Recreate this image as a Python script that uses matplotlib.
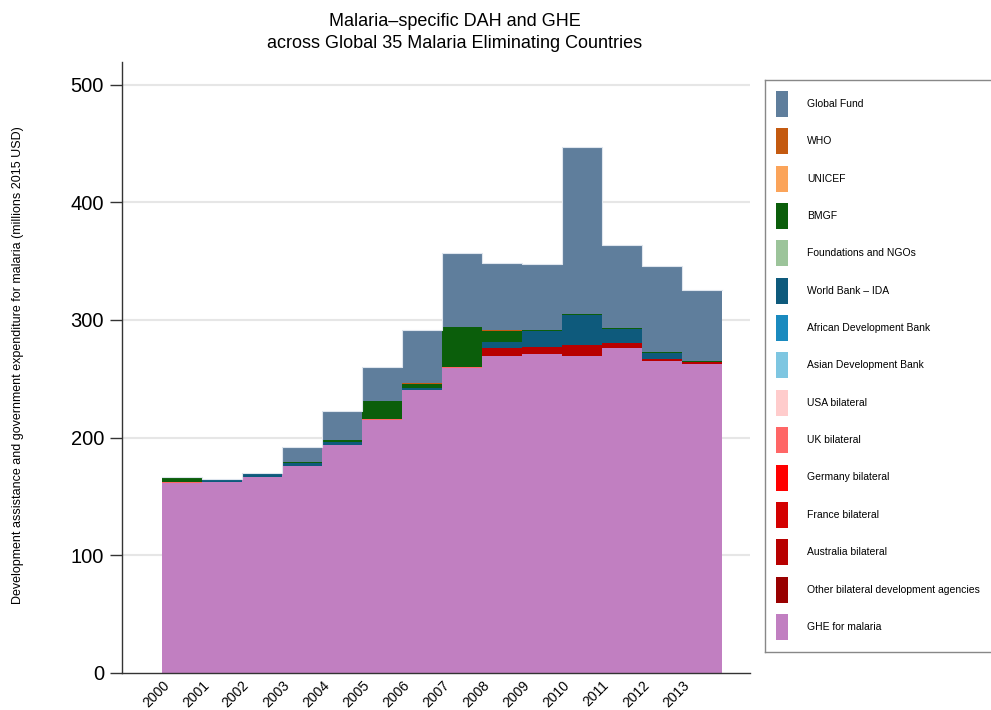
import matplotlib
matplotlib.use("Agg")
import matplotlib.pyplot as plt
from matplotlib.patches import Rectangle
import numpy as np

plt.rcParams['font.family'] = ['Liberation Sans', 'DejaVu Sans']

years = list(range(2000, 2014))

# Funding sources, bottom of the stack first (millions 2015 USD)
ghe        = [161.5, 162.0, 166.7, 176.0, 193.5, 215.0, 240.4, 259.4, 269.5, 271.0, 269.3, 276.4, 265.4, 262.5]
other_bil  = [0.0, 0.0, 0.0, 0.0, 0.0, 0.0, 0.0, 0.0, 0.0, 0.0, 0.0, 0.0, 0.0, 0.0]
australia  = [0.0, 0.0, 0.0, 0.0, 0.0, 0.0, 0.0, 0.0, 6.8, 6.3, 9.6, 3.7, 1.7, 1.5]
france     = [0.0, 0.0, 0.0, 0.0, 0.0, 0.0, 0.0, 0.0, 0.0, 0.0, 0.0, 0.0, 0.0, 0.0]
germany    = [0.0, 0.0, 0.0, 0.0, 0.0, 0.0, 0.0, 0.0, 0.0, 0.0, 0.0, 0.0, 0.0, 0.0]
uk         = [0.5, 0.3, 0.0, 0.0, 0.0, 0.5, 0.0, 0.8, 0.0, 0.0, 0.0, 0.0, 0.0, 0.0]
usa        = [0.0, 0.0, 0.0, 0.0, 0.0, 0.0, 0.0, 0.0, 0.0, 0.0, 0.0, 0.0, 0.0, 0.0]
asdb       = [0.0, 0.0, 0.0, 0.0, 0.0, 0.0, 0.0, 0.0, 0.0, 0.0, 0.0, 0.0, 0.0, 0.0]
afdb       = [0.0, 0.0, 0.0, 0.0, 0.0, 0.0, 0.0, 0.0, 0.0, 0.0, 0.0, 0.0, 0.0, 0.0]
wb_ida     = [0.0, 1.8, 2.0, 2.6, 2.6, 0.0, 2.0, 0.0, 4.8, 13.6, 25.3, 12.0, 4.8, 0.0]
foundations= [0.0, 0.0, 0.0, 0.0, 0.0, 0.0, 0.0, 0.0, 0.0, 0.0, 0.0, 0.0, 0.0, 0.0]
bmgf       = [4.8, 0.0, 0.8, 0.5, 2.0, 15.9, 3.0, 33.5, 9.8, 0.6, 0.6, 0.8, 0.8, 1.4]
unicef     = [0.0, 0.0, 0.0, 0.0, 0.0, 0.0, 0.0, 0.0, 0.0, 0.0, 0.0, 0.0, 0.0, 0.0]
who        = [0.0, 0.0, 0.0, 0.0, 0.0, 0.0, 0.7, 0.0, 0.5, 0.0, 0.0, 0.0, 0.0, 0.0]
global_fund= [0.0, 0.7, 0.0, 12.9, 24.2, 28.3, 45.7, 63.5, 57.2, 56.0, 142.4, 70.5, 73.4, 60.0]

series = [
    ("GHE for malaria", ghe, "#c17fc1"),
    ("Other bilateral development agencies", other_bil, "#990000"),
    ("Australia bilateral", australia, "#b80000"),
    ("France bilateral", france, "#d40000"),
    ("Germany bilateral", germany, "#ff0000"),
    ("UK bilateral", uk, "#ff6666"),
    ("USA bilateral", usa, "#ffcccc"),
    ("Asian Development Bank", asdb, "#7ec6e1"),
    ("African Development Bank", afdb, "#1a8abf"),
    ("World Bank \u2013 IDA", wb_ida, "#0e5a7c"),
    ("Foundations and NGOs", foundations, "#9cc49a"),
    ("BMGF", bmgf, "#0b5e0b"),
    ("UNICEF", unicef, "#fba45a"),
    ("WHO", who, "#c45a10"),
    ("Global Fund", global_fund, "#5f7e9c"),
]

W, H = 991, 710
fig = plt.figure(figsize=(W / 100, H / 100), dpi=100)

# main plot region (pixel box converted to figure fractions)
ax_l, ax_r, ax_b, ax_t = 122, 750, 673, 62
ax = fig.add_axes([ax_l / W, 1 - ax_b / H, (ax_r - ax_l) / W, (ax_b - ax_t) / H])

x_edges = np.array(years + [years[-1] + 1], dtype=float)
base = np.zeros(len(years))
for name, vals, color in series:
    v = np.array(vals, dtype=float)
    top = base + v
    ax.fill_between(x_edges, np.append(base, base[-1]), np.append(top, top[-1]),
                    step="post", facecolor=color, edgecolor="none", linewidth=0, zorder=2)
    base = top

# faint outline of the stacked total
ax.step(x_edges, np.append(base, base[-1]), where="post", color="#dfe6ee", lw=0.8, zorder=3)

ax.set_xlim(1999.0, 2014.7)
ax.set_ylim(0, (673 - 62) / 1.177)
ax.set_yticks([0, 100, 200, 300, 400, 500])
ax.set_yticklabels(["0", "100", "200", "300", "400", "500"], fontsize=14.5)
ax.set_xticks(years)
ax.set_xticklabels([str(y) for y in years], rotation=45, ha="right",
                   rotation_mode="anchor", fontsize=10)
ax.tick_params(axis="x", length=0, pad=4)
ax.tick_params(axis="y", length=9, width=1, color="#333333", pad=4)
for yv in [100, 200, 300, 400, 500]:
    ax.axhline(yv, color="#e6e6e6", lw=1.5, zorder=1)
for s in ["top", "right"]:
    ax.spines[s].set_visible(False)
ax.spines["left"].set_color("#333333")
ax.spines["bottom"].set_color("#333333")
ax.spines["left"].set_linewidth(1.0)
ax.spines["bottom"].set_linewidth(1.0)

fig.text(455 / W, 1 - 21 / H, "Malaria\u2013specific DAH and GHE", ha="center", va="center", fontsize=13)
fig.text(455 / W, 1 - 43 / H, "across Global 35 Malaria Eliminating Countries", ha="center", va="center", fontsize=13)
fig.text(18 / W, 1 - 365 / H,
         "Development assistance and government expenditure for malaria (millions 2015 USD)",
         rotation=90, ha="center", va="center", fontsize=9)

# legend panel
lg_l, lg_r, lg_t, lg_b = 765, 1000, 80, 652
lax = fig.add_axes([lg_l / W, 1 - lg_b / H, (lg_r - lg_l) / W, (lg_b - lg_t) / H])
lax.set_xlim(lg_l, lg_r)
lax.set_ylim(lg_b, lg_t)
lax.set_xticks([])
lax.set_yticks([])
for s in lax.spines.values():
    s.set_color("#888888")
    s.set_linewidth(1.0)
row0, dy = 104, 37.35
for i, (name, vals, color) in enumerate(reversed(series)):
    yc = row0 + i * dy
    lax.add_patch(Rectangle((776, yc - 13), 12, 26, facecolor=color, edgecolor="none"))
    lax.text(807, yc, name, ha="left", va="center", fontsize=7.5)

fig.savefig("out.png", dpi=100)
